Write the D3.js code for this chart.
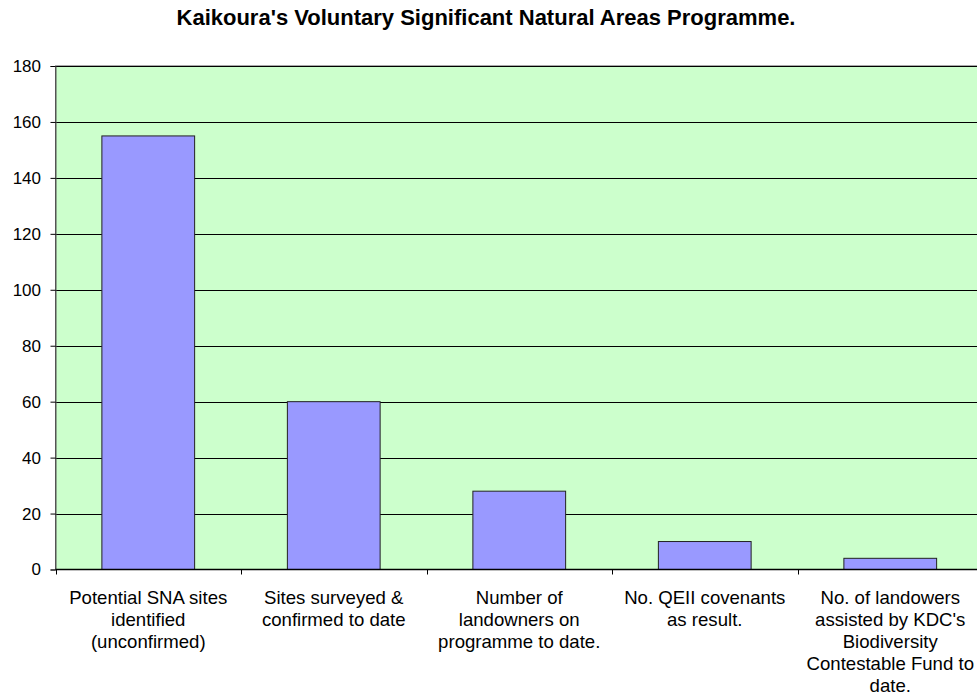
<!DOCTYPE html>
<html>
<head>
<meta charset="utf-8">
<script src="https://cdn.jsdelivr.net/npm/d3@7"></script>
<style>
  html, body { margin: 0; padding: 0; background: #fff; }
  svg { display: block; }
  text { font-family: "Liberation Sans", Arial, sans-serif; fill: #000; }
</style>
</head>
<body>
<svg id="chart" width="977" height="696"></svg>
<script>
const title = "Kaikoura's Voluntary Significant Natural Areas Programme.";
const categories = [
  ["Potential SNA sites", "identified", "(unconfirmed)"],
  ["Sites surveyed &", "confirmed to date"],
  ["Number of", "landowners on", "programme to date."],
  ["No. QEII covenants", "as result."],
  ["No. of landowers", "assisted by KDC's", "Biodiversity", "Contestable Fund to", "date."]
];
const values = [155, 60, 28, 10, 4];
const yTicks = [0, 20, 40, 60, 80, 100, 120, 140, 160, 180];

const plotLeft = 55.5, plotRight = 983, plotTop = 66, plotBottom = 569.5;

const svg = d3.select("#chart");
const ids = categories.map((c, i) => i);

const x = d3.scaleBand().domain(ids).range([plotLeft, plotRight]).paddingInner(0.5).paddingOuter(0.25);
const xCat = d3.scaleBand().domain(ids).range([plotLeft, plotRight]).padding(0);
const y = d3.scaleLinear().domain([0, 180]).range([plotBottom, plotTop]);

// plot background
svg.append("rect")
  .attr("x", plotLeft).attr("y", plotTop)
  .attr("width", plotRight - plotLeft).attr("height", plotBottom - plotTop)
  .attr("fill", "#CCFFCC").attr("stroke", "#555").attr("stroke-width", 1);

// gridlines
svg.append("g").selectAll("line")
  .data(yTicks.filter(t => t > 0))
  .join("line")
  .attr("x1", plotLeft).attr("x2", plotRight)
  .attr("y1", d => Math.round(y(d)) + 0.5).attr("y2", d => Math.round(y(d)) + 0.5)
  .attr("stroke", "#000").attr("stroke-width", 1);

// bars
svg.append("g").selectAll("rect")
  .data(values)
  .join("rect")
  .attr("x", (d, i) => x(i))
  .attr("y", d => y(d))
  .attr("width", x.bandwidth())
  .attr("height", d => plotBottom - y(d))
  .attr("fill", "#9999FF")
  .attr("stroke", "#222").attr("stroke-width", 1);

// y axis
const yAxis = d3.axisLeft(y).tickValues(yTicks).tickSize(5).tickPadding(9.5).tickFormat(d3.format("d"));
const gy = svg.append("g").attr("transform", `translate(${plotLeft},0)`).call(yAxis);
gy.select(".domain").attr("stroke", "#555");
gy.selectAll(".tick line").attr("stroke", "#000");
gy.selectAll(".tick text").attr("font-size", 17).attr("font-family", "Liberation Sans, Arial, sans-serif").attr("fill", "#000");

// x axis line + ticks at category boundaries
svg.append("line")
  .attr("x1", plotLeft).attr("x2", plotRight).attr("y1", plotBottom).attr("y2", plotBottom)
  .attr("stroke", "#000").attr("stroke-width", 1.5);
const boundaries = ids.map(i => xCat(i));
svg.append("g").selectAll("line")
  .data(boundaries)
  .join("line")
  .attr("x1", d => Math.round(d) + 0.5).attr("x2", d => Math.round(d) + 0.5)
  .attr("y1", plotBottom).attr("y2", plotBottom + 5)
  .attr("stroke", "#000");

// category labels
const lab = svg.append("g").selectAll("text")
  .data(categories)
  .join("text")
  .attr("text-anchor", "middle")
  .attr("font-size", 18.6)
  .attr("x", (d, i) => xCat(i) + xCat.bandwidth() / 2);
lab.selectAll("tspan")
  .data(d => d)
  .join("tspan")
  .attr("x", function() { return d3.select(this.parentNode).attr("x"); })
  .attr("y", (d, j) => 603.5 + j * 22.2)
  .text(d => d);

// title
svg.append("text")
  .attr("x", 486).attr("y", 25)
  .attr("text-anchor", "middle")
  .attr("font-size", 22).attr("font-weight", "bold")
  .text(title);
</script>
</body>
</html>
